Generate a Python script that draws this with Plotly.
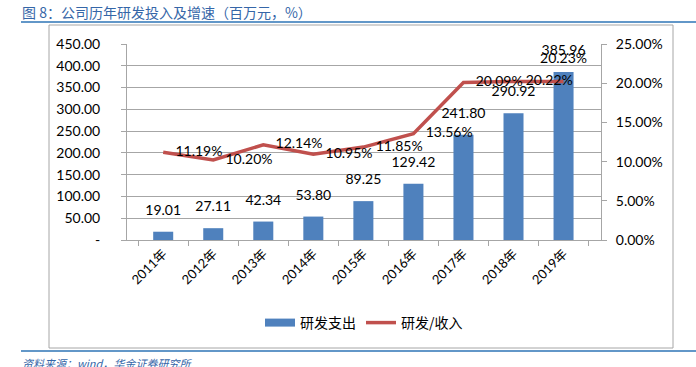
import plotly.graph_objects as go

years = ["2011年", "2012年", "2013年", "2014年", "2015年", "2016年", "2017年", "2018年", "2019年"]
rd_spend = [19.01, 27.11, 42.34, 53.80, 89.25, 129.42, 241.80, 290.92, 385.96]
rd_ratio = [11.19, 10.20, 12.14, 10.95, 11.85, 13.56, 20.09, 20.22, 20.23]
left_ticks = [0, 50, 100, 150, 200, 250, 300, 350, 400, 450]
left_ticktext = ["-", "50.00", "100.00", "150.00", "200.00", "250.00", "300.00", "350.00", "400.00", "450.00"]
right_ticks = [0, 5, 10, 15, 20, 25]
right_ticktext = ["0.00%", "5.00%", "10.00%", "15.00%", "20.00%", "25.00%"]

W, H = 696, 367
def px(x):
    return x / W
def py(y):
    return (H - y) / H

FONT = "Lato, 'Noto Sans CJK SC', sans-serif"
CJK = "'Noto Sans CJK SC', sans-serif"
BAR_COLOR = "#4F81BD"
LINE_COLOR = "#C0504D"

fig = go.Figure()
fig.add_trace(go.Bar(
    x=years, y=rd_spend, name="研发支出", showlegend=False,
    marker=dict(color=BAR_COLOR, line=dict(width=0)),
    width=0.4,
    hoverinfo="skip",
))
# legend entry for the bars drawn as a wide flat swatch (like the original)
fig.add_trace(go.Scatter(
    x=[None], y=[None], name="研发支出", mode="lines",
    line=dict(color=BAR_COLOR, width=8),
))
# bar value labels
fig.add_trace(go.Scatter(
    x=years, y=rd_spend, showlegend=False,
    mode="markers+text",
    marker=dict(size=20, opacity=0),
    text=[f"{v:.2f}" for v in rd_spend], textposition="top center",
    textfont=dict(family=FONT, size=14, color="#000000"),
    cliponaxis=False, hoverinfo="skip",
))
fig.add_trace(go.Scatter(
    x=years, y=rd_ratio, name="研发/收入", yaxis="y2",
    mode="lines",
    line=dict(color=LINE_COLOR, width=3.5),
    cliponaxis=False,
))
# data labels for the ratio line
positions = ["middle right"] * (len(rd_ratio) - 1) + ["top center"]
sizes = [18] * (len(rd_ratio) - 1) + [22]
fig.add_trace(go.Scatter(
    x=years, y=rd_ratio, yaxis="y2", showlegend=False,
    mode="markers+text",
    marker=dict(size=sizes, opacity=0),
    text=[f"{v:.2f}%" for v in rd_ratio], textposition=positions,
    textfont=dict(family=FONT, size=14, color="#000000"),
    cliponaxis=False, hoverinfo="skip",
))

fig.update_layout(
    width=W, height=H,
    margin=dict(l=0, r=0, t=0, b=0, pad=0, autoexpand=False),
    paper_bgcolor="white", plot_bgcolor="white",
    font=dict(family=FONT, size=14, color="#000000"),
    xaxis=dict(
        domain=[px(127), px(601)],
        type="category", automargin=False,
        showline=True, linecolor="#A6A6A6", linewidth=1,
        ticks="outside", tickson="boundaries", ticklen=5, tickcolor="#A6A6A6",
        tickangle=-45,
        tickfont=dict(family=FONT, size=13),
        showgrid=False,
        anchor="y",
    ),
    yaxis=dict(
        domain=[py(240), py(44)],
        range=[0, 450], automargin=False,
        tickvals=left_ticks, ticktext=left_ticktext,
        showline=True, linecolor="#A6A6A6", linewidth=1,
        ticks="outside", ticklen=5, tickcolor="#A6A6A6",
        ticklabelstandoff=18,
        showgrid=True, gridcolor="#A6A6A6", gridwidth=1,
        zeroline=False,
        tickfont=dict(family=FONT, size=14),
    ),
    yaxis2=dict(
        overlaying="y", side="right", anchor="x",
        range=[0, 25], automargin=False,
        tickvals=right_ticks, ticktext=right_ticktext,
        showline=True, linecolor="#A6A6A6", linewidth=1,
        ticks="outside", ticklen=5, tickcolor="#A6A6A6",
        ticklabelstandoff=6,
        showgrid=False, zeroline=False,
        tickfont=dict(family=FONT, size=14),
    ),
    legend=dict(
        orientation="h", x=px(364), xanchor="center", y=py(323), yanchor="middle",
        font=dict(family=CJK, size=14, color="#000000"),
        itemwidth=30, traceorder="normal",
        bgcolor="rgba(0,0,0,0)",
    ),
    showlegend=True,
)

# outer chart frame
fig.add_shape(type="rect", xref="paper", yref="paper",
              x0=px(49), x1=px(673), y0=py(348), y1=py(25),
              line=dict(color="#A6A6A6", width=1), layer="below")
# title rule and bottom rule
fig.add_shape(type="line", xref="paper", yref="paper",
              x0=px(21), x1=1, y0=py(22), y1=py(22),
              line=dict(color="#2E75B6", width=1.5))
fig.add_shape(type="line", xref="paper", yref="paper",
              x0=px(21), x1=1, y0=py(351), y1=py(351),
              line=dict(color="#2E75B6", width=1.5))

fig.add_annotation(text="图 8：公司历年研发投入及增速（百万元，%）",
                   xref="paper", yref="paper", x=px(20), y=py(12),
                   xanchor="left", yanchor="middle", showarrow=False,
                   font=dict(family=CJK, size=14, color="#3566A8"))
fig.add_annotation(text="<i>资料来源：wind，华金证券研究所</i>",
                   xref="paper", yref="paper", x=px(20), y=py(363),
                   xanchor="left", yanchor="middle", showarrow=False,
                   font=dict(family=CJK, size=11, color="#3566A8"))

# remove the browser's default 8px body margin so the figure sits at (0, 0)
fig.write_html("out.html",
               config={"displayModeBar": False},
               post_script="document.body.style.margin='0';document.body.style.overflow='hidden';")
